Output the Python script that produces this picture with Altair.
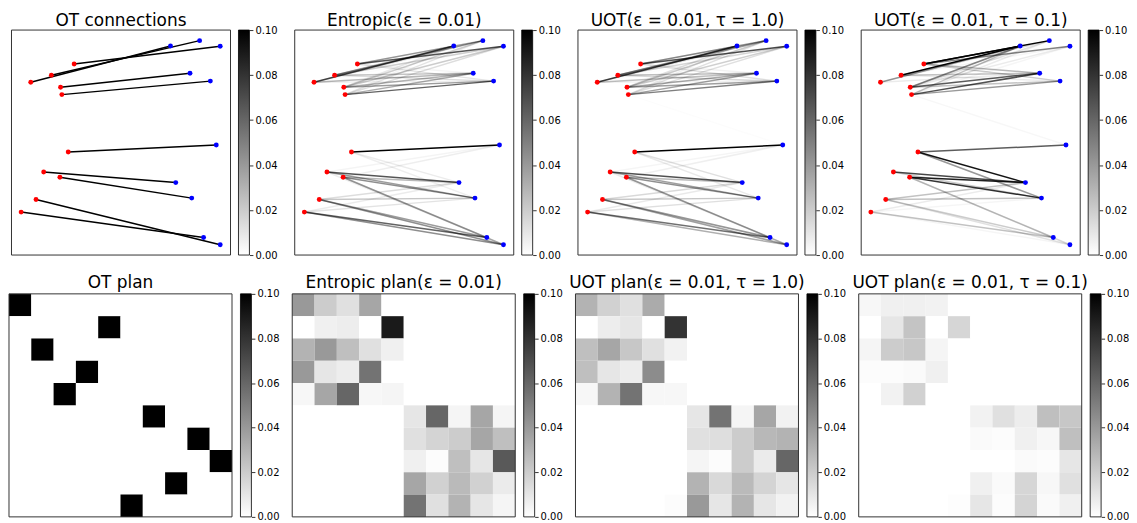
import altair as alt
import pandas as pd

FONT = "DejaVu Sans"

# ---- sample positions (red = source, blue = target), data units ----
src_x = [1.12, 2.59, 2.21, 0.44, 1.47, 2.86, 1.82, 0.88, 2.24, 2.30]
src_y = [2.47, 4.58, 3.46, 1.91, 3.69, 8.49, 7.99, 7.68, 7.46, 7.13]
tgt_x = [9.53, 8.23, 7.50, 8.77, 9.35, 9.08, 9.53, 8.15, 8.59, 7.26]
tgt_y = [0.46, 2.53, 3.22, 0.78, 4.89, 7.73, 9.28, 8.08, 9.53, 9.29]

# ---- transport plans (rows = source, cols = target) ----
ot_perm = [0, 4, 1, 3, 2, 6, 8, 9, 7, 5]
ot_mass = 0.1
OT_PLAN = [[ot_mass if j == ot_perm[i] else 0.0 for j in range(10)] for i in range(10)]

ENT_PLAN = [
    [0.040, 0.020, 0.012, 0.035, 0.000, 0, 0, 0, 0, 0],
    [0.000, 0.006, 0.007, 0.000, 0.090, 0, 0, 0, 0, 0],
    [0.030, 0.040, 0.025, 0.012, 0.006, 0, 0, 0, 0, 0],
    [0.040, 0.010, 0.007, 0.055, 0.000, 0, 0, 0, 0, 0],
    [0.003, 0.035, 0.060, 0.003, 0.004, 0, 0, 0, 0, 0],
    [0, 0, 0, 0, 0, 0.010, 0.060, 0.004, 0.035, 0.004],
    [0, 0, 0, 0, 0, 0.012, 0.017, 0.020, 0.035, 0.025],
    [0, 0, 0, 0, 0, 0.006, 0.001, 0.025, 0.010, 0.065],
    [0, 0, 0, 0, 0, 0.035, 0.018, 0.027, 0.018, 0.008],
    [0, 0, 0, 0, 0, 0.055, 0.012, 0.030, 0.010, 0.004],
]

UOT1_PLAN = [
    [0.030, 0.018, 0.012, 0.033, 0.000, 0, 0, 0, 0, 0],
    [0.000, 0.007, 0.010, 0.000, 0.080, 0, 0, 0, 0, 0],
    [0.025, 0.035, 0.022, 0.012, 0.005, 0, 0, 0, 0, 0],
    [0.025, 0.010, 0.007, 0.045, 0.000, 0, 0, 0, 0, 0],
    [0.003, 0.030, 0.055, 0.003, 0.003, 0, 0, 0, 0, 0],
    [0, 0, 0, 0, 0, 0.010, 0.055, 0.004, 0.035, 0.005],
    [0, 0, 0, 0, 0, 0.012, 0.013, 0.020, 0.028, 0.030],
    [0, 0, 0, 0, 0, 0.004, 0.001, 0.020, 0.008, 0.060],
    [0, 0, 0, 0, 0, 0.030, 0.015, 0.027, 0.017, 0.010],
    [0, 0, 0, 0, 0.001, 0.040, 0.010, 0.030, 0.010, 0.005],
]

UOT01_PLAN = [
    [0.003, 0.006, 0.006, 0.005, 0.000, 0, 0, 0, 0, 0],
    [0.000, 0.010, 0.023, 0.000, 0.016, 0, 0, 0, 0, 0],
    [0.004, 0.020, 0.022, 0.004, 0.000, 0, 0, 0, 0, 0],
    [0.001, 0.001, 0.002, 0.006, 0.000, 0, 0, 0, 0, 0],
    [0.000, 0.005, 0.018, 0.000, 0.000, 0, 0, 0, 0, 0],
    [0, 0, 0, 0, 0, 0.005, 0.012, 0.007, 0.025, 0.022],
    [0, 0, 0, 0, 0, 0.002, 0.001, 0.006, 0.003, 0.025],
    [0, 0, 0, 0, 0, 0.000, 0.000, 0.002, 0.001, 0.010],
    [0, 0, 0, 0, 0, 0.006, 0.002, 0.016, 0.003, 0.012],
    [0, 0, 0, 0, 0.0008, 0.010, 0.001, 0.017, 0.002, 0.006],
]

top_titles = ["OT connections", "Entropic(ε = 0.01)",
              "UOT(ε = 0.01, τ = 1.0)", "UOT(ε = 0.01, τ = 0.1)"]
bottom_titles = ["OT plan", "Entropic plan(ε = 0.01)",
                 "UOT plan(ε = 0.01, τ = 1.0)", "UOT plan(ε = 0.01, τ = 0.1)"]
plans = [OT_PLAN, ENT_PLAN, UOT1_PLAN, UOT01_PLAN]

cb_ticks = [0.0, 0.02, 0.04, 0.06, 0.08, 0.10]
cb_domain = [0.0, 0.1]

# ---- layout (pixels) ----
TOP_X0, TOP_W, TOP_H, TOP_GAP = 2.5, 220, 226, 8
BOT_X0, BOT_W, BOT_H, BOT_GAP = 0, 224, 224, 8.5
CB_W = 11
AX_EXT = 28
STEP = 284
FRAME = "#333333"

grad = alt.LinearGradient(
    gradient="linear",
    stops=[alt.GradientStop(color="#ffffff", offset=0), alt.GradientStop(color="#000000", offset=1)],
    x1=0, x2=0, y1=1, y2=0)

cb_axis = alt.Axis(orient="right", values=cb_ticks, format=".2f", title=None,
                   domain=False, grid=False, tickSize=3.5, tickColor="black",
                   tickWidth=0.8, labelPadding=2, labelFontSize=10,
                   labelColor="black", labelFont=FONT, minExtent=AX_EXT, maxExtent=AX_EXT)


def colorbar(x0):
    return alt.Chart(pd.DataFrame({"lo": [cb_domain[0]], "hi": [cb_domain[1]]})).mark_rect(
        color=grad, stroke="black", strokeWidth=0.8).encode(
        x=alt.value(x0), x2=alt.value(x0 + CB_W),
        y=alt.Y("lo:Q", scale=alt.Scale(domain=cb_domain, nice=False, zero=False), axis=cb_axis),
        y2="hi:Q")


def title_params(text, view_w, center, offset):
    return alt.TitleParams(text=text, dx=center - view_w / 2, offset=offset, fontSize=17,
                           font=FONT, fontWeight="normal", color="black", anchor="middle",
                           frame="group")


def conn_view(plan, title):
    xs = alt.Scale(domain=[0, 10], range=[TOP_X0, TOP_X0 + TOP_W], nice=False, zero=False)
    ys = alt.Scale(domain=[0, 10], nice=False, zero=False)
    mx = max(max(r) for r in plan)
    recs = []
    for i in range(10):
        for j in range(10):
            v = plan[i][j]
            if v > 0:
                recs.append(dict(x=src_x[i], y=src_y[i], x2=tgt_x[j], y2=tgt_y[j], a=v / mx))
    frame = alt.Chart(pd.DataFrame({"x0": [0], "x1": [10], "y0": [0], "y1": [10]})).mark_rect(
        fillOpacity=0, stroke=FRAME, strokeWidth=1).encode(
        x=alt.X("x0:Q", scale=xs, axis=None), x2="x1:Q",
        y=alt.Y("y0:Q", scale=ys, axis=None), y2="y1:Q")
    lines = alt.Chart(pd.DataFrame(recs)).mark_rule(color="black", strokeWidth=1.5).encode(
        x=alt.X("x:Q", scale=xs, axis=None),
        y=alt.Y("y:Q", scale=ys, axis=None),
        x2="x2:Q", y2="y2:Q",
        opacity=alt.Opacity("a:Q", scale=None),
    )
    src = alt.Chart(pd.DataFrame({"x": src_x, "y": src_y})).mark_circle(
        color="#ff0000", size=24, opacity=1).encode(
        x=alt.X("x:Q", scale=xs, axis=None), y=alt.Y("y:Q", scale=ys, axis=None))
    tgt = alt.Chart(pd.DataFrame({"x": tgt_x, "y": tgt_y})).mark_circle(
        color="#0000ff", size=24, opacity=1).encode(
        x=alt.X("x:Q", scale=xs, axis=None), y=alt.Y("y:Q", scale=ys, axis=None))
    cb_x0 = TOP_X0 + TOP_W + TOP_GAP
    view_w = cb_x0 + CB_W
    return alt.layer(frame, lines, src, tgt, colorbar(cb_x0)).resolve_scale(
        y="independent").properties(width=view_w, height=TOP_H,
                                    title=title_params(title, view_w, TOP_X0 + TOP_W / 2, -4.5))


def plan_view(plan, title):
    recs = [dict(i=i, j=j, v=plan[i][j]) for i in range(10) for j in range(10)]
    heat = alt.Chart(pd.DataFrame(recs)).mark_rect().encode(
        x=alt.X("j:O", axis=None,
                scale=alt.Scale(paddingInner=0, paddingOuter=0, range=[BOT_X0, BOT_X0 + BOT_W])),
        y=alt.Y("i:O", axis=None, scale=alt.Scale(paddingInner=0, paddingOuter=0)),
        color=alt.Color("v:Q", scale=alt.Scale(domain=cb_domain, range=["#ffffff", "#000000"],
                                               interpolate="rgb", clamp=True), legend=None),
    )
    frame = alt.Chart(pd.DataFrame({"k": [0]})).mark_rect(
        fillOpacity=0, stroke=FRAME, strokeWidth=1).encode(
        x=alt.value(BOT_X0), x2=alt.value(BOT_X0 + BOT_W), y=alt.value(0), y2=alt.value(BOT_H))
    cb_x0 = BOT_X0 + BOT_W + BOT_GAP
    view_w = cb_x0 + CB_W
    return alt.layer(heat, frame, colorbar(cb_x0)).resolve_scale(
        y="independent").properties(width=view_w, height=BOT_H,
                                    title=title_params(title, view_w, BOT_X0 + BOT_W / 2, -3.5))


top_w = TOP_X0 + TOP_W + TOP_GAP + CB_W
bot_w = BOT_X0 + BOT_W + BOT_GAP + CB_W
top = alt.hconcat(*[conn_view(p, t) for p, t in zip(plans, top_titles)],
                  spacing=STEP - top_w, bounds="flush")
bottom = alt.hconcat(*[plan_view(p, t) for p, t in zip(plans, bottom_titles)],
                     spacing=STEP - bot_w, bounds="flush")

chart = alt.vconcat(top, bottom, spacing=14).properties(
    padding={"left": 0, "top": 2, "right": 0, "bottom": 0}
).configure(font=FONT).configure_view(strokeWidth=0)

chart.save("out.html", embed_options={"renderer": "svg", "actions": False})
